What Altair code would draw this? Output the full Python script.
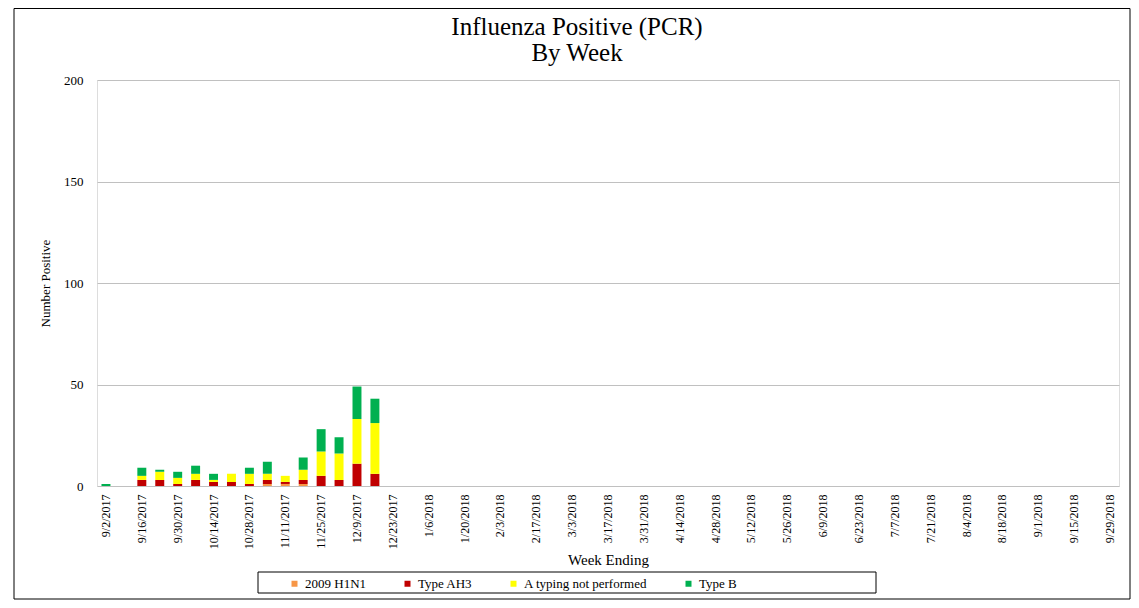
import altair as alt
import pandas as pd

weeks = [
    "9/2/2017", "9/9/2017", "9/16/2017", "9/23/2017", "9/30/2017", "10/7/2017",
    "10/14/2017", "10/21/2017", "10/28/2017", "11/4/2017", "11/11/2017", "11/18/2017",
    "11/25/2017", "12/2/2017", "12/9/2017", "12/16/2017", "12/23/2017", "12/30/2017",
    "1/6/2018", "1/13/2018", "1/20/2018", "1/27/2018", "2/3/2018", "2/10/2018",
    "2/17/2018", "2/24/2018", "3/3/2018", "3/10/2018", "3/17/2018", "3/24/2018",
    "3/31/2018", "4/7/2018", "4/14/2018", "4/21/2018", "4/28/2018", "5/5/2018",
    "5/12/2018", "5/19/2018", "5/26/2018", "6/2/2018", "6/9/2018", "6/16/2018",
    "6/23/2018", "6/30/2018", "7/7/2018", "7/14/2018", "7/21/2018", "7/28/2018",
    "8/4/2018", "8/11/2018", "8/18/2018", "8/25/2018", "9/1/2018", "9/8/2018",
    "9/15/2018", "9/22/2018", "9/29/2018",
]
tick_labels = weeks[::2]

# values for the first 16 weeks (remaining weeks have no positives)
h1n1 = [0, 0, 0, 0, 0, 0, 0, 0, 0, 1, 1, 1, 0, 0, 0, 0]
ah3 = [0, 0, 3, 3, 1, 3, 2, 2, 1, 2, 1, 2, 5, 3, 11, 6]
not_typed = [0, 0, 2, 4, 3, 3, 1, 4, 5, 3, 3, 5, 12, 13, 22, 25]
type_b = [1, 0, 4, 1, 3, 4, 3, 0, 3, 6, 0, 6, 11, 8, 16, 12]

series = ["2009 H1N1", "Type AH3", "A typing not performed", "Type B"]
colors = ["#F79646", "#C00000", "#FFFF00", "#00B050"]

rows = []
for k, (name, vals) in enumerate(zip(series, [h1n1, ah3, not_typed, type_b])):
    for i, v in enumerate(vals):
        rows.append({"week": weeks[i], "series": name, "value": v, "ord": k})
df = pd.DataFrame(rows)

SERIF = "Liberation Serif"

bars = alt.Chart(df).mark_bar().encode(
    x=alt.X(
        "week:N",
        scale=alt.Scale(domain=weeks, paddingInner=0.5, paddingOuter=0.25),
        axis=alt.Axis(
            values=tick_labels,
            labelAngle=270,
            labelFont=SERIF,
            labelFontSize=12,
            labelColor="black",
            labelPadding=8,
            ticks=False,
            domain=False,
            title="Week Ending",
            titleFont=SERIF,
            titleFontSize=15,
            titleFontWeight="normal",
            titleColor="black",
            titlePadding=4,
        ),
    ),
    y=alt.Y(
        "value:Q",
        stack="zero",
        scale=alt.Scale(domain=[0, 200], nice=False),
        axis=alt.Axis(
            values=[0, 50, 100, 150, 200],
            labelFont=SERIF,
            labelFontSize=13,
            labelColor="black",
            labelPadding=14,
            ticks=False,
            domain=False,
            grid=True,
            gridColor="#C0C0C0",
            gridWidth=1,
            title="Number Positive",
            titleFont=SERIF,
            titleFontSize=13,
            titleFontWeight="normal",
            titleColor="black",
            titlePadding=11,
        ),
    ),
    color=alt.Color(
        "series:N",
        scale=alt.Scale(domain=series, range=colors),
        legend=alt.Legend(
            title=None,
            orient="none",
            legendX=191,
            legendY=497,
            direction="horizontal",
            symbolType="square",
            symbolSize=36,
            symbolStrokeWidth=0,
            labelFont=SERIF,
            labelFontSize=13,
            labelColor="black",
            labelOffset=4,
            columnPadding=34,
            padding=0,
        ),
    ),
    order=alt.Order("ord:Q", sort="ascending"),
)

dummy = pd.DataFrame({"a": [0]})
legend_box = alt.Chart(dummy).mark_rect(
    fillOpacity=0, stroke="black", strokeWidth=1
).encode(
    x=alt.value(161), x2=alt.value(779), y=alt.value(492), y2=alt.value(513)
)
frame = alt.Chart(dummy).mark_rect(
    fillOpacity=0, stroke="black", strokeWidth=1
).encode(
    x=alt.value(-83), x2=alt.value(1033), y=alt.value(-71.5), y2=alt.value(519)
)

chart = alt.layer(frame, legend_box, bars).properties(
    width=1022,
    height=406,
    autosize=alt.AutoSizeParams(type="none"),
    padding={"left": 89, "top": 72, "right": 12, "bottom": 114},
    title=alt.TitleParams(
        ["Influenza Positive (PCR)", "By Week"],
        font=SERIF,
        fontSize=25,
        fontWeight="normal",
        color="black",
        anchor="middle",
        dx=-31,
        dy=72,
        lineHeight=26,
        offset=14,
    ),
).configure_view(
    stroke="#808080", strokeWidth=2
).configure(background="white")

chart.save("out.html", embed_options={"renderer": "svg", "actions": False})
